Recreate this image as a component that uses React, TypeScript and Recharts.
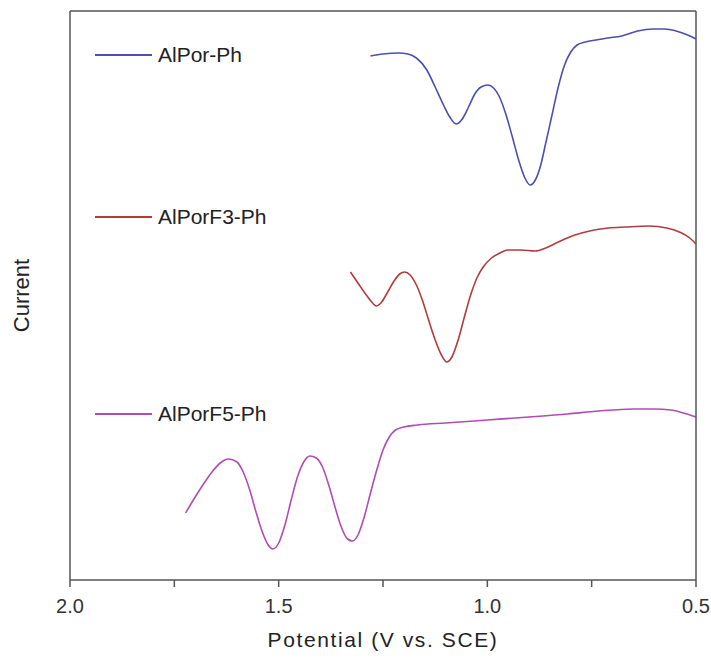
import React from "react";
import { LineChart, Line, XAxis, YAxis } from "recharts";

// Potential (V vs. SCE) and current (arbitrary units, offset traces)
const porPhV = [1.28, 1.25, 1.213, 1.19, 1.17, 1.145, 1.125, 1.105, 1.09, 1.075, 1.06, 1.045, 1.03, 1.015, 0.998, 0.985, 0.972, 0.955, 0.94, 0.925, 0.91, 0.897, 0.885, 0.872, 0.86, 0.845, 0.83, 0.815, 0.8, 0.785, 0.765, 0.74, 0.712, 0.678, 0.64, 0.603, 0.575, 0.548, 0.52, 0.5];
const porPhI = [529, 531, 532, 531, 527, 515, 498, 480, 468, 461, 466, 478, 491, 498, 500, 497, 489, 470, 448, 425, 407, 400, 405, 420, 442, 470, 498, 520, 533, 540, 543, 545, 547, 549, 554, 556, 556, 554, 550, 546];

const porF3V = [1.328, 1.31, 1.29, 1.275, 1.266, 1.255, 1.24, 1.225, 1.21, 1.198, 1.185, 1.17, 1.155, 1.14, 1.125, 1.11, 1.097, 1.085, 1.07, 1.055, 1.04, 1.025, 1.01, 0.99, 0.97, 0.95, 0.92, 0.885, 0.86, 0.83, 0.79, 0.755, 0.71, 0.669, 0.613, 0.57, 0.54, 0.515, 0.5];
const porF3I = [313, 302, 290, 282, 279, 282, 292, 303, 311, 313, 310, 300, 284, 264, 245, 230, 223, 228, 245, 268, 290, 307, 318, 327, 332, 335, 335, 334, 337, 343, 350, 354, 357, 358, 359, 357, 353, 347, 341];

const porF5V = [1.723, 1.7, 1.68, 1.658, 1.64, 1.62, 1.6, 1.585, 1.57, 1.555, 1.54, 1.525, 1.514, 1.5, 1.485, 1.47, 1.455, 1.44, 1.425, 1.41, 1.395, 1.38, 1.365, 1.35, 1.335, 1.323, 1.31, 1.295, 1.28, 1.265, 1.25, 1.235, 1.22, 1.2, 1.167, 1.1, 1.0, 0.9, 0.808, 0.733, 0.65, 0.6, 0.56, 0.53, 0.5];
const porF5I = [72, 88, 101, 114, 122, 126, 123, 113, 96, 74, 54, 40, 36, 42, 60, 85, 108, 123, 129, 127, 118, 100, 78, 58, 46, 44, 50, 68, 92, 115, 135, 148, 155, 158, 160, 162, 165, 168, 171, 174, 176, 176, 175, 172, 168];

const xTicks = [2.0, 1.75, 1.5, 1.25, 1.0, 0.75, 0.5];
const majorTicks = [2.0, 1.5, 1.0, 0.5];

const seriesNames = ["AlPor-Ph", "AlPorF3-Ph", "AlPorF5-Ph"];
const seriesColors = ["#4b50b0", "#b23c3c", "#b04cb4"];
const legendTops = [55, 217, 414];

const toRows = (xs: number[], ys: number[]) => xs.map((v, i) => ({ v, i: ys[i] }));
const seriesData = [toRows(porPhV, porPhI), toRows(porF3V, porF3I), toRows(porF5V, porF5I)];

const FONT = "'Liberation Sans', Arial, sans-serif";
const AXIS = "#555";

export default function App() {
  return (
    <div style={{ position: "absolute", left: 0, top: 0, width: 711, height: 662, background: "#fff" }}>
      <LineChart width={711} height={662} margin={{ top: 10, right: 14, left: 69, bottom: 12 }}>
        <XAxis
          xAxisId="b"
          dataKey="v"
          type="number"
          domain={[0.5, 2.0]}
          reversed
          allowDuplicatedCategory={false}
          ticks={xTicks}
          interval={0}
          tickFormatter={(v: number) => (majorTicks.some((m) => Math.abs(m - v) < 1e-6) ? v.toFixed(1) : "")}
          height={70}
          tickSize={7}
          tickMargin={12}
          axisLine={{ stroke: AXIS, strokeWidth: 1.5 }}
          tickLine={{ stroke: AXIS, strokeWidth: 1.5 }}
          tick={{ fill: "#333", fontSize: 20, fontFamily: FONT }}
          label={{
            content: (props: any) => {
              const vb = props.viewBox;
              return (
                <text
                  x={vb.x + vb.width / 2}
                  y={vb.y + 67}
                  textAnchor="middle"
                  fill="#222"
                  fontSize={21}
                  fontFamily={FONT}
                  letterSpacing={1.6}
                >
                  Potential (V vs. SCE)
                </text>
              );
            },
          }}
        />
        <XAxis
          xAxisId="t"
          dataKey="v"
          type="number"
          domain={[0.5, 2.0]}
          reversed
          orientation="top"
          height={1}
          tick={false}
          tickLine={false}
          axisLine={{ stroke: AXIS, strokeWidth: 1.5 }}
        />
        <YAxis
          yAxisId="l"
          type="number"
          domain={[5, 574]}
          width={1}
          tick={false}
          tickLine={false}
          axisLine={{ stroke: AXIS, strokeWidth: 1.5 }}
          label={{
            content: (props: any) => {
              const vb = props.viewBox;
              const cx = 29;
              const cy = vb.y + vb.height / 2;
              return (
                <text
                  x={cx}
                  y={cy}
                  textAnchor="middle"
                  fill="#222"
                  fontSize={22}
                  fontFamily={FONT}
                  transform={`rotate(-90, ${cx}, ${cy})`}
                >
                  Current
                </text>
              );
            },
          }}
        />
        <YAxis
          yAxisId="r"
          type="number"
          domain={[5, 574]}
          orientation="right"
          width={1}
          tick={false}
          tickLine={false}
          axisLine={{ stroke: AXIS, strokeWidth: 1.5 }}
        />
        {seriesData.map((d, k) => (
          <Line
            key={seriesNames[k]}
            xAxisId="b"
            yAxisId="l"
            data={d}
            dataKey="i"
            type="monotone"
            stroke={seriesColors[k]}
            strokeWidth={1.6}
            dot={false}
            activeDot={false}
            isAnimationActive={false}
          />
        ))}
      </LineChart>
      {seriesNames.map((name, k) => (
        <div
          key={name}
          style={{
            position: "absolute",
            left: 95,
            top: legendTops[k] - 13,
            height: 26,
            display: "flex",
            alignItems: "center",
            fontFamily: FONT,
            fontSize: 21,
            color: "#222",
            whiteSpace: "nowrap",
          }}
        >
          <span style={{ display: "inline-block", width: 57, height: 0, borderTop: `2px solid ${seriesColors[k]}`, marginRight: 6 }} />
          <span>{name}</span>
        </div>
      ))}
    </div>
  );
}
